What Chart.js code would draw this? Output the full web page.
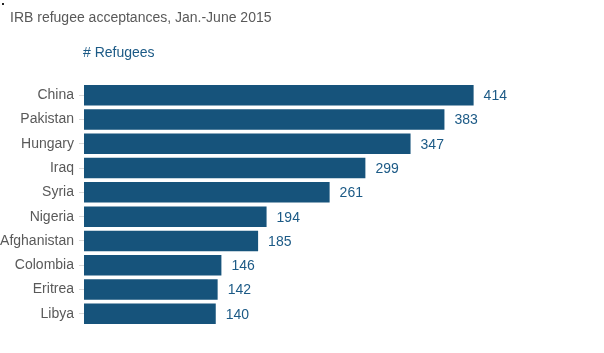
<!DOCTYPE html>
<html>
<head>
<meta charset="utf-8">
<script src="https://cdn.jsdelivr.net/npm/chart.js@4"></script>
<style>
  html, body { margin: 0; padding: 0; background: #fff; }
  #wrap { width: 604px; height: 353px; position: relative; }
</style>
</head>
<body>
<div id="wrap"><canvas id="refugeeChart" width="604" height="353"></canvas></div>
<script>
// IRB refugee acceptances, Jan.-June 2015
const countries = ['China', 'Pakistan', 'Hungary', 'Iraq', 'Syria', 'Nigeria', 'Afghanistan', 'Colombia', 'Eritrea', 'Libya'];
const refugees = [414, 383, 347, 299, 261, 194, 185, 146, 142, 140];

const chartTitle = 'IRB refugee acceptances, Jan.-June 2015';
const seriesLabel = '# Refugees';

const barColor = '#16537b';
const valueColor = '#1c5a86';
const greyText = '#595959';
const font = '"Liberation Sans", Arial, Helvetica, sans-serif';

// title, subtitle and value labels drawn straight onto the canvas
const labelsPlugin = {
    id: 'labels',
    afterDatasetsDraw(chart) {
        const ctx = chart.ctx;
        ctx.save();
        ctx.fillStyle = '#222';
        ctx.fillRect(2, 3, 2, 2);

        ctx.font = '14px ' + font;
        ctx.textBaseline = 'middle';
        ctx.textAlign = 'left';
        ctx.fillStyle = greyText;
        ctx.fillText(chartTitle, 10, 18);
        ctx.fillStyle = valueColor;
        ctx.fillText(seriesLabel, chart.chartArea.left - 1, 53);

        const meta = chart.getDatasetMeta(0);
        meta.data.forEach((bar, i) => {
            ctx.fillText(refugees[i], bar.x + 10, bar.y + 1);
        });
        ctx.restore();
    }
};

const ctx = document.getElementById('refugeeChart').getContext('2d');
new Chart(ctx, {
    type: 'bar',
    data: {
        labels: countries,
        datasets: [{
            label: seriesLabel,
            data: refugees,
            backgroundColor: barColor,
            borderWidth: 0,
            categoryPercentage: 1,
            barPercentage: 0.845
        }]
    },
    options: {
        indexAxis: 'y',
        responsive: false,
        animation: false,
        layout: { padding: { top: 83, bottom: 27, left: 0, right: 2.4 } },
        plugins: {
            legend: { display: false },
            tooltip: { enabled: false }
        },
        scales: {
            x: {
                display: false,
                min: 0,
                max: 550
            },
            y: {
                afterFit: (scale) => { scale.width = 84; },
                border: { display: false },
                grid: {
                    offset: false,
                    drawOnChartArea: false,
                    drawTicks: true,
                    tickLength: 5,
                    color: '#d9d9d9'
                },
                ticks: {
                    color: greyText,
                    padding: 5,
                    font: { family: font, size: 14 }
                }
            }
        }
    },
    plugins: [labelsPlugin]
});
</script>
</body>
</html>
